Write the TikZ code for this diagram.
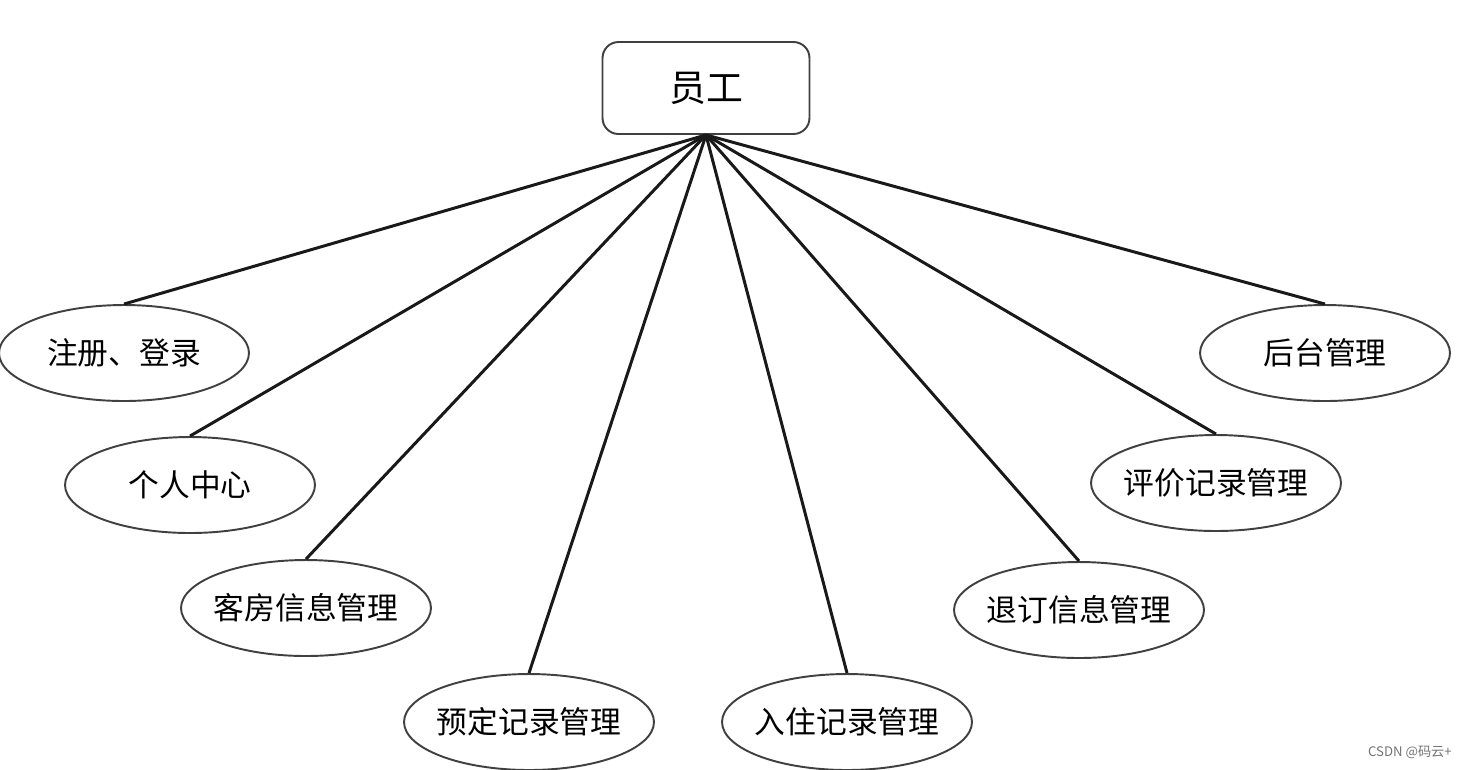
\documentclass[tikz,border=0pt]{standalone}
\usepackage{fontspec}
\setmainfont{Liberation Sans}
\newfontfamily\cjk{Noto Sans CJK SC}
\usetikzlibrary{shapes.geometric}
\begin{document}
\begin{tikzpicture}[x=0.02cm,y=-0.02cm,
  hubbox/.style={draw=black!75,line width=1.1pt,rounded corners=0.32cm,minimum width=4.14cm,minimum height=1.84cm,inner sep=0pt,font=\cjk\fontsize{21}{24}\selectfont,fill=white},
  func/.style={ellipse,draw=black!75,line width=1.1pt,minimum width=5cm,minimum height=1.92cm,inner xsep=-0.3cm,inner ysep=0pt,font=\cjk\fontsize{17.5}{20}\selectfont,fill=white},
  link/.style={line width=1.7pt,black!90}]
\useasboundingbox (0,0) rectangle (1469,769);
\clip (0,0) rectangle (1469,769);
\node[hubbox] (emp) at (706,88) {员工};
\node[func] (e1) at (124,353) {注册、登录};
\node[func] (e2) at (190,485) {个人中心};
\node[func] (e3) at (306,608) {客房信息管理};
\node[func] (e4) at (529,722) {预定记录管理};
\node[func] (e5) at (847,722) {入住记录管理};
\node[func] (e6) at (1079,610) {退订信息管理};
\node[func] (e7) at (1216,483) {评价记录管理};
\node[func] (e8) at (1325,353) {后台管理};
\foreach \e in {e1,e2,e3,e4,e5,e6,e7,e8}
  \draw[link] (emp.south) -- (\e.north);
\node[anchor=east,text=black!55,font=\cjk\fontsize{7.5}{9}\selectfont,inner sep=0pt] (wm) at (1452,752) {CSDN @码云+};
\end{tikzpicture}
\end{document}
